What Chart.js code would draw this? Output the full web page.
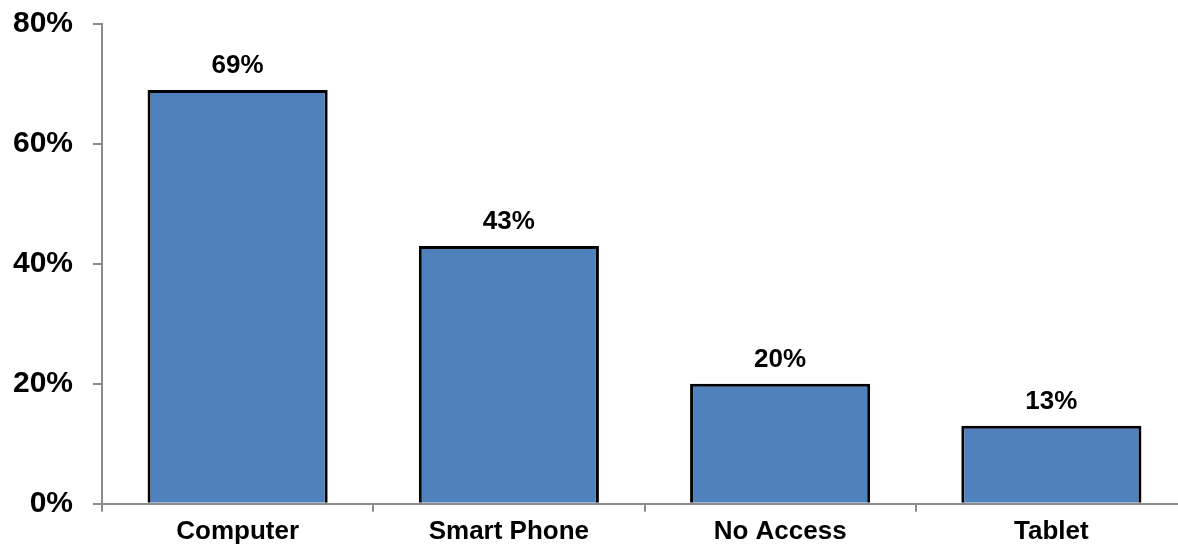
<!DOCTYPE html>
<html>
<head>
<meta charset="utf-8">
<script src="https://cdn.jsdelivr.net/npm/chart.js@4/dist/chart.umd.min.js"></script>
<style>
    html, body { margin: 0; padding: 0; background: #fff; overflow: hidden; }
    #wrap { width: 1190px; height: 565px; margin-top: -14px; }
</style>
</head>
<body>
<div id="wrap"><canvas id="accessChart"></canvas></div>
<script>
const categories = ['Computer', 'Smart Phone', 'No Access', 'Tablet'];
const shares = [69, 43, 20, 13];
const yTicks = [0, 20, 40, 60, 80];

// prints the value above each bar
const barValueLabels = {
    id: 'barValueLabels',
    afterDatasetsDraw(chart) {
        const ctx = chart.ctx;
        const meta = chart.getDatasetMeta(0);
        ctx.save();
        ctx.font = 'bold 26px "Liberation Sans", Arial, sans-serif';
        ctx.fillStyle = '#000';
        ctx.textAlign = 'center';
        ctx.textBaseline = 'alphabetic';
        meta.data.forEach((bar, i) => {
            ctx.fillText(shares[i] + '%', bar.x, bar.y - 17);
        });
        ctx.restore();
    }
};

const ctx = document.getElementById('accessChart').getContext('2d');
new Chart(ctx, {
    type: 'bar',
    data: {
        labels: categories,
        datasets: [{
            data: shares,
            backgroundColor: '#4F81BD',
            borderColor: '#000',
            borderWidth: 3,
            borderSkipped: 'start',
            categoryPercentage: 1,
            barPercentage: 0.664
        }]
    },
    options: {
        responsive: true,
        maintainAspectRatio: false,
        animation: false,
        layout: {
            padding: { left: 0, right: 3, top: 0, bottom: 0 }
        },
        plugins: {
            legend: { display: false },
            tooltip: { enabled: false }
        },
        scales: {
            x: {
                grid: {
                    display: true,
                    offset: true,
                    drawOnChartArea: false,
                    drawTicks: true,
                    tickLength: 8,
                    color: '#8c8c8c',
                    lineWidth: 2
                },
                border: { display: true, color: '#8c8c8c', width: 2 },
                ticks: {
                    color: '#000',
                    padding: 4,
                    font: { family: '"Liberation Sans", Arial, sans-serif', size: 26, weight: 'bold' }
                }
            },
            y: {
                min: 0,
                max: 80,
                afterBuildTicks: scale => {
                    scale.ticks = yTicks.map(v => ({ value: v }));
                },
                afterFit: scale => {
                    scale.width = 102;
                },
                grid: {
                    display: true,
                    drawOnChartArea: false,
                    drawTicks: true,
                    tickLength: 9,
                    color: '#8c8c8c',
                    lineWidth: 2
                },
                border: { display: true, color: '#8c8c8c', width: 2 },
                ticks: {
                    color: '#000',
                    padding: 20,
                    callback: value => value + '%',
                    font: { family: '"Liberation Sans", Arial, sans-serif', size: 30, weight: 'bold' }
                }
            }
        }
    },
    plugins: [barValueLabels]
});
</script>
</body>
</html>
